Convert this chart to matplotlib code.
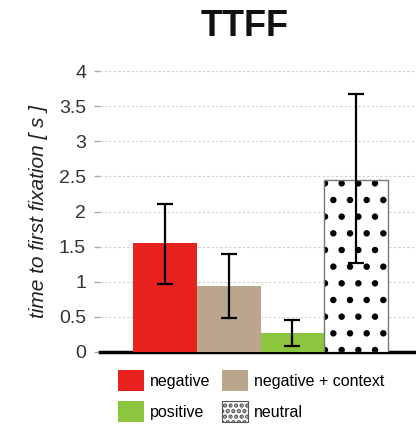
import matplotlib.pyplot as plt
from matplotlib.patches import Patch

plt.rcParams['font.family'] = ['Liberation Sans', 'DejaVu Sans']
plt.rcParams['hatch.linewidth'] = 2.2

conditions = ['negative', 'negative + context', 'positive', 'neutral']
means = [1.55, 0.94, 0.27, 2.45]
err_low = [0.58, 0.46, 0.18, 1.18]
err_high = [0.56, 0.46, 0.19, 1.22]
colors = ['#e8221e', '#b9a68c', '#8cc63f', 'white']
yticks = [0, 0.5, 1, 1.5, 2, 2.5, 3, 3.5, 4]
ytick_labels = ['0', '0.5', '1', '1.5', '2', '2.5', '3', '3.5', '4']

fig = plt.figure(figsize=(4.16, 4.25), dpi=100)
ax = fig.add_axes([100 / 416, 73 / 425, 316 / 416, 281 / 425])

x = list(range(len(means)))
bars = ax.bar(x, means, width=1.0, color=colors, zorder=3)
bars[3].set_edgecolor('black')
bars[3].set_linewidth(0)
bars[3].set_hatch('.')
# grey outline for the dotted bar
ax.bar(x[3], means[3], width=1.0, fill=False, edgecolor='#777777',
       linewidth=1.0, zorder=3)
ax.errorbar(x, means, yerr=[err_low, err_high], fmt='none', ecolor='black',
            elinewidth=1.6, capsize=5.5, capthick=1.6, zorder=4)

ax.set_xlim(-1.02, 3.94)
ax.set_ylim(0, 4)
ax.set_yticks(yticks)
ax.set_yticklabels(ytick_labels, fontsize=14, color='#333333')
ax.set_xticks([])
ax.yaxis.grid(True, linestyle=(0, (2, 2)), color='#d0d0d0', linewidth=0.8, zorder=0)
ax.tick_params(axis='y', length=4, width=1, color='#aaaaaa', pad=6)
for side in ['top', 'right', 'left']:
    ax.spines[side].set_visible(False)
ax.spines['bottom'].set_linewidth(2.5)
ax.spines['bottom'].set_color('black')
ax.set_ylabel('time to first fixation [ s ]', fontsize=15, style='italic',
              color='#222222', labelpad=8)

fig.text(0.589, 0.938, 'TTFF', fontsize=26, fontweight='bold', ha='center',
         va='center', color='#111111')

handles = [Patch(facecolor=colors[0]), Patch(facecolor=colors[2]),
           Patch(facecolor=colors[1]),
           Patch(facecolor='white', edgecolor='#555555', hatch='...', linewidth=0.8)]
labels = [conditions[0], conditions[2], conditions[1], conditions[3]]
fig.legend(handles, labels, ncol=2, frameon=False, fontsize=11.5,
           loc='lower left', bbox_to_anchor=(104 / 416, -0.026),
           handlelength=1.6, handleheight=1.6, columnspacing=0.7,
           handletextpad=0.4, labelspacing=0.65)

fig.savefig('out.png', dpi=100)
